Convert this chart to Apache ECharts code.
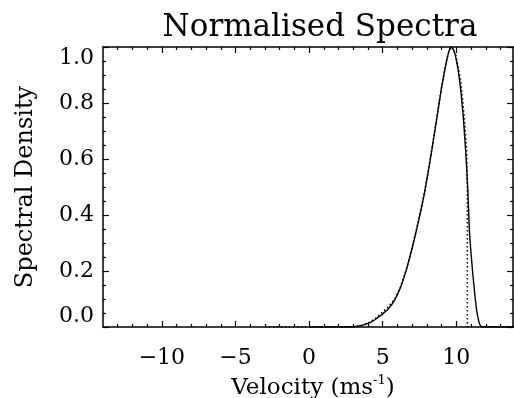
<!DOCTYPE html>
<html>
<head>
<meta charset="utf-8">
<script src="https://cdn.jsdelivr.net/npm/echarts@6/dist/echarts.min.js"></script>
<style>
  html, body { margin: 0; padding: 0; background: #fff; }
  #chart { width: 514px; height: 398px; }
</style>
</head>
<body>
<div id="chart"></div>
<script>
// solid curve: [velocity, density]
var solidSpectrum = [
  [0, 0], [2.5, 0], [3.0, 0.001], [3.5, 0.005], [3.9, 0.011], [4.3, 0.02],
  [4.6, 0.031], [5.0, 0.047], [5.4, 0.066], [5.8, 0.095], [6.2, 0.14],
  [6.6, 0.203], [7.0, 0.282], [7.4, 0.37], [7.8, 0.468], [8.2, 0.588],
  [8.6, 0.72], [9.0, 0.855], [9.3, 0.94], [9.5, 0.985], [9.65, 1.0],
  [9.9, 0.977], [10.22, 0.882], [10.45, 0.763], [10.63, 0.632], [10.78, 0.49],
  [10.9, 0.335], [11.12, 0.19], [11.35, 0.072], [11.53, 0.019], [11.65, 0.004],
  [11.8, 0], [14, 0]
];
// dotted curve, cut off near 10.75
var dottedSpectrum = [
  [-3, 0], [2.6, 0], [3.1, 0.002], [3.6, 0.006], [4.0, 0.014], [4.5, 0.03],
  [4.9, 0.05], [5.3, 0.068], [5.8, 0.098], [6.2, 0.142], [6.6, 0.205],
  [7.0, 0.284], [7.4, 0.373], [7.8, 0.471], [8.2, 0.591], [8.6, 0.723],
  [9.0, 0.858], [9.3, 0.943], [9.5, 0.987], [9.67, 1.0], [9.95, 0.975],
  [10.3, 0.88], [10.52, 0.76], [10.7, 0.63], [10.75, 0.5], [10.75, 0]
];
var xMajorTicks = [-10, -5, 0, 5, 10];
var xMinorTicks = [-13, -12, -11, -9, -8, -7, -6, -4, -3, -2, -1, 1, 2, 3, 4, 6, 7, 8, 9, 11, 12, 13];

var FONT = "DejaVu Serif";
var black = "#000";

function xAxisCfg(pos, ticks, len, withLine, withLabel) {
  return {
    type: "value",
    position: pos,
    min: -14,
    max: 13.85,
    splitLine: { show: false },
    axisLine: { show: withLine, onZero: false, lineStyle: { color: black, width: 1.5 } },
    axisTick: { show: true, inside: true, length: len, customValues: ticks, lineStyle: { color: black, width: 1.2 } },
    axisLabel: withLabel
      ? {
          show: true,
          customValues: ticks,
          margin: 20,
          color: black,
          fontFamily: FONT,
          fontSize: 22,
          formatter: function (v) { return v < 0 ? "\u2212" + Math.abs(v) : String(v); }
        }
      : { show: false }
  };
}

function yAxisCfg(pos, withLabel) {
  return {
    type: "value",
    position: pos,
    min: 0,
    max: 1,
    interval: 0.2,
    splitLine: { show: false },
    axisLine: { show: true, onZero: false, lineStyle: { color: black, width: 1.5 } },
    axisTick: { show: true, inside: true, length: 6, lineStyle: { color: black, width: 1.2 } },
    minorTick: { show: true, splitNumber: 4, length: 3, lineStyle: { color: black, width: 1.2 } },
    axisLabel: withLabel
      ? {
          show: true,
          margin: 9,
          color: black,
          fontFamily: FONT,
          fontSize: 22,
          verticalAlignMinLabel: "bottom",
          verticalAlignMaxLabel: "top",
          formatter: function (v) { return v.toFixed(1); }
        }
      : { show: false }
  };
}

var chart = echarts.init(document.getElementById("chart"));

var xMain = xAxisCfg("bottom", xMajorTicks, 6, true, true);
xMain.name = "{a|Velocity (ms}{s|-1}{a|)}";
xMain.nameLocation = "middle";
xMain.nameGap = 46;
xMain.nameTextStyle = {
  padding: [0, 0, 0, 10],
  rich: {
    a: { fontFamily: FONT, fontSize: 23, color: black, lineHeight: 26, verticalAlign: "bottom" },
    s: { fontFamily: FONT, fontSize: 13, color: black, lineHeight: 26, verticalAlign: "top" }
  }
};

var yMain = yAxisCfg("left", true);
yMain.name = "Spectral Density";
yMain.nameLocation = "middle";
yMain.nameGap = 65;
yMain.nameTextStyle = { fontFamily: FONT, fontSize: 24, color: black };

var option = {
  backgroundColor: "#fff",
  animation: false,
  title: {
    text: "Normalised Spectra",
    left: 315,
    top: 7,
    textAlign: "center",
    textStyle: { fontFamily: FONT, fontSize: 31, fontWeight: "normal", color: black }
  },
  grid: { left: 103, right: 1, top: 47, bottom: 71, containLabel: false, outerBoundsMode: "none" },
  xAxis: [
    xMain,
    xAxisCfg("bottom", xMinorTicks, 3, false, false),
    xAxisCfg("top", xMajorTicks, 6, true, false),
    xAxisCfg("top", xMinorTicks, 3, false, false)
  ],
  yAxis: [yMain, yAxisCfg("right", false)],
  series: [
    {
      name: "solid",
      type: "line",
      xAxisIndex: 0,
      yAxisIndex: 0,
      data: solidSpectrum,
      showSymbol: false,
      smooth: 0.3,
      lineStyle: { color: black, width: 1.4 }
    },
    {
      name: "dotted",
      type: "line",
      xAxisIndex: 0,
      yAxisIndex: 0,
      data: dottedSpectrum,
      showSymbol: false,
      smooth: false,
      lineStyle: { color: black, width: 1.5, type: [1.5, 2.5] }
    }
  ]
};
chart.setOption(option);
</script>
</body>
</html>
